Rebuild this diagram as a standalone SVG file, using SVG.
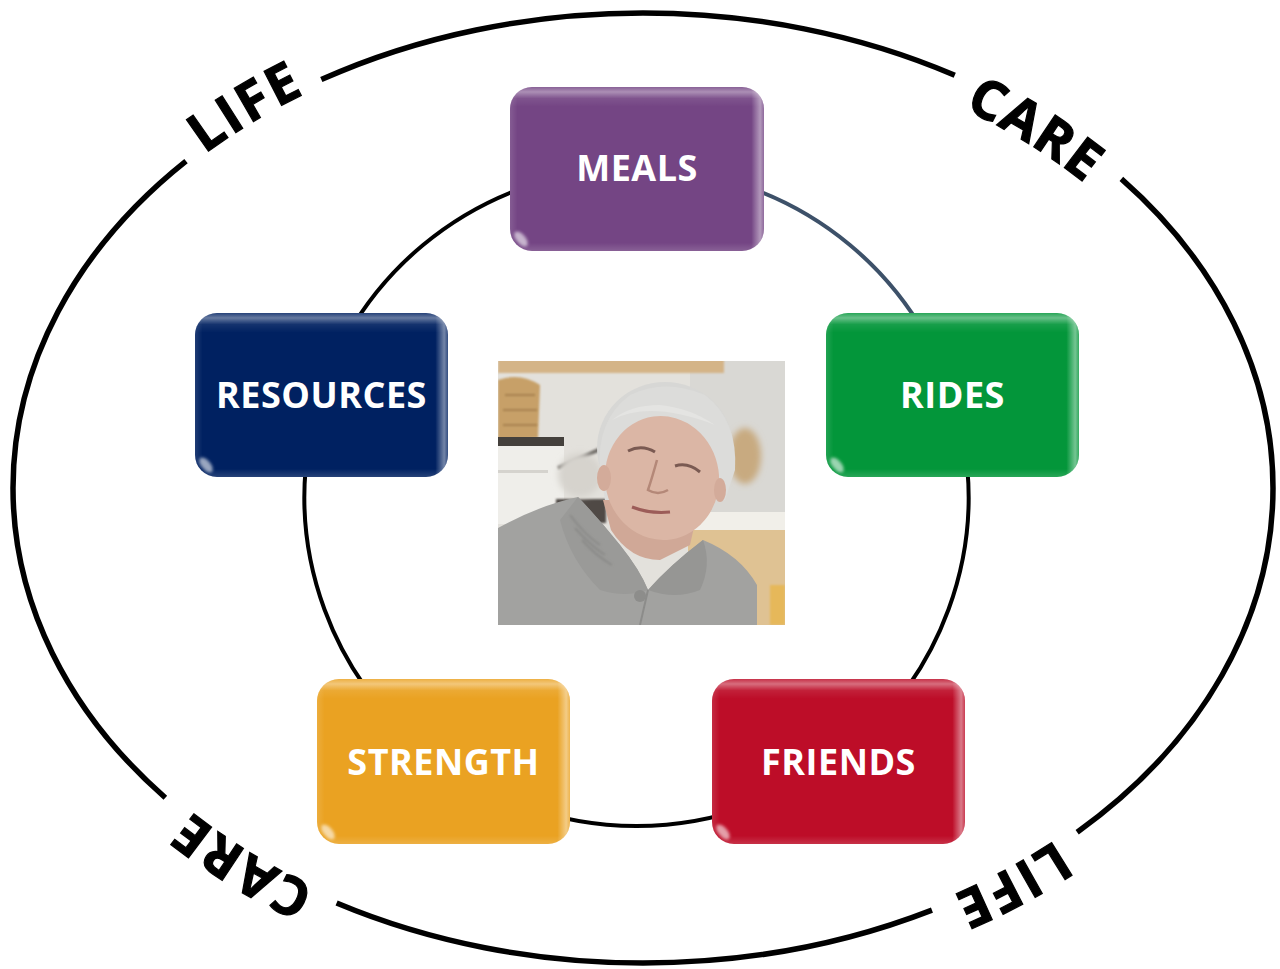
<svg xmlns="http://www.w3.org/2000/svg" xmlns:xlink="http://www.w3.org/1999/xlink" width="1280" height="969" viewBox="0 0 1280 969">
<style>
.lbl{font-family:"Open Sans","Liberation Sans",sans-serif;font-weight:700;font-size:36px;letter-spacing:.5px;fill:#fff;text-anchor:middle}
.ring{font-family:"Open Sans","Liberation Sans",sans-serif;font-weight:700;font-size:54px;fill:#000;stroke:#000;stroke-width:1.2px;letter-spacing:3px;text-anchor:middle}
.conn{fill:none;stroke:#000;stroke-width:4}
.gt{fill:url(#gTop)}
.gr{fill:url(#gRight)}
.spot{fill:#fff;opacity:.6;filter:url(#soft)}
</style>
<defs>
<path id="outerPath" d="M 13 488 A 630 475 0 0 1 1273 488 A 630 475 0 0 1 13 488"/>
<linearGradient id="gTop" x1="0" y1="0" x2="0" y2="1">
<stop offset="0" stop-color="#fff" stop-opacity=".15"/>
<stop offset=".03" stop-color="#fff" stop-opacity=".4"/>
<stop offset=".07" stop-color="#fff" stop-opacity=".08"/>
<stop offset=".12" stop-color="#fff" stop-opacity="0"/>
<stop offset=".95" stop-color="#fff" stop-opacity="0"/>
<stop offset="1" stop-color="#fff" stop-opacity=".15"/>
</linearGradient>
<linearGradient id="gRight" x1="0" y1="0" x2="1" y2="0">
<stop offset="0" stop-color="#fff" stop-opacity=".12"/>
<stop offset=".03" stop-color="#fff" stop-opacity="0"/>
<stop offset=".95" stop-color="#fff" stop-opacity="0"/>
<stop offset=".985" stop-color="#fff" stop-opacity=".45"/>
<stop offset="1" stop-color="#fff" stop-opacity=".2"/>
</linearGradient>
<filter id="soft" x="-50%" y="-50%" width="200%" height="200%"><feGaussianBlur stdDeviation="1.5"/></filter>
<filter id="blur3" x="-20%" y="-20%" width="140%" height="140%"><feGaussianBlur stdDeviation="3"/></filter>
<filter id="blur1"><feGaussianBlur stdDeviation="1"/></filter>
<clipPath id="photoClip"><rect x="498" y="361" width="287" height="264"/></clipPath>
</defs>
<rect width="1280" height="969" fill="#fff"/>

<g id="outer-ring">
<path d="M 13 488 A 630 475 0 0 1 1273 488 A 630 475 0 0 1 13 488" pathLength="1000" fill="none" stroke="#000" stroke-width="5.5" stroke-dasharray="109.77 45.37 186.61 56.47 219.74 47.35 174.77 57.87 102.05"/>
<text class="ring" dy="6"><textPath href="#outerPath" startOffset="13.25%">LIFE</textPath></text>
<text class="ring" dy="27"><textPath href="#outerPath" startOffset="37%">CARE</textPath></text>
<text class="ring" dy="6"><textPath href="#outerPath" startOffset="64.16%">LIFE</textPath></text>
<text class="ring" dy="6"><textPath href="#outerPath" startOffset="86.9%">CARE</textPath></text>
</g>

<g id="connectors">
<path class="conn" style="stroke:#3d5169" d="M 636.5 168 A 332 329 0 0 1 963.5 439.9"/>
<path class="conn" d="M 963.5 439.9 A 332 329 0 0 1 849.9 749"/>
<path class="conn" d="M 849.9 749 A 332 329 0 0 1 423.1 749"/>
<path class="conn" d="M 423.1 749 A 332 329 0 0 1 309.5 439.9"/>
<path class="conn" d="M 309.5 439.9 A 332 329 0 0 1 636.5 168"/>
</g>

<g id="photo" clip-path="url(#photoClip)">
<rect x="498" y="361" width="287" height="264" fill="#e3e1dc"/>
<rect x="690" y="361" width="95" height="160" fill="#d9d8d4"/>
<rect x="498" y="358" width="226" height="15" fill="#d4b487" filter="url(#blur1)"/>
<path d="M498 380 Q520 372 540 385 L538 438 L498 440 Z" fill="#c7a068" filter="url(#blur1)"/>
<path d="M505 395 L535 395 M503 410 L537 410 M503 425 L537 425" stroke="#a7824f" stroke-width="2" fill="none" filter="url(#blur1)"/>
<rect x="498" y="437" width="66" height="9" fill="#44403c"/>
<rect x="498" y="446" width="66" height="78" fill="#efeeea"/>
<rect x="498" y="470" width="50" height="3" fill="#d5d3ce"/>
<rect x="556" y="499" width="50" height="24" fill="#4f4a45" filter="url(#blur1)"/>
<path d="M558 468 L605 447" stroke="#6f6c68" stroke-width="4" filter="url(#blur1)"/>
<ellipse cx="580" cy="475" rx="22" ry="22" fill="#d6d3cd" filter="url(#blur3)"/>
<ellipse cx="745" cy="456" rx="16" ry="28" fill="#c8aa80" filter="url(#blur3)"/>
<rect x="688" y="512" width="97" height="20" fill="#f1efe9"/>
<rect x="688" y="530" width="97" height="95" fill="#dfc293"/>
<rect x="770" y="585" width="15" height="40" fill="#e6b85a" filter="url(#blur1)"/>
<ellipse cx="665" cy="448" rx="68" ry="66" fill="#d7d7d5"/>
<path d="M600 470 Q596 420 630 395 Q665 378 705 395 Q738 420 735 470 L725 500 L605 500 Z" fill="#dcdcda"/>
<path d="M603 500 L611 530 Q630 560 660 560 L690 545 L700 500 Z" fill="#d0a897"/>
<ellipse cx="662" cy="478" rx="57" ry="62" fill="#dbb6a5" transform="rotate(-8 662 478)"/>
<path d="M612 420 Q650 400 715 425 Q690 408 660 405 Q630 405 612 420 Z" fill="#e4e4e2"/>
<path d="M628 451 Q642 444 655 452" stroke="#7a5a52" stroke-width="3" fill="none"/>
<path d="M675 466 Q688 462 700 472" stroke="#7a5a52" stroke-width="3" fill="none"/>
<path d="M657 460 Q652 478 648 490 Q658 496 668 490" stroke="#b48878" stroke-width="2.5" fill="none"/>
<path d="M632 507 Q650 514 670 512" stroke="#9c5c58" stroke-width="3" fill="none"/>
<ellipse cx="604" cy="478" rx="7" ry="13" fill="#d3ab9a"/>
<ellipse cx="720" cy="490" rx="6" ry="12" fill="#d3ab9a"/>
<path d="M498 528 Q540 505 578 497 Q600 520 620 545 Q640 570 648 590 Q670 565 703 540 Q740 555 757 585 L757 625 L498 625 Z" fill="#a2a2a0"/>
<path d="M578 497 Q600 520 620 545 Q640 570 648 590 Q625 598 600 590 Q570 560 560 520 Z" fill="#9a9a98"/>
<path d="M648 590 Q670 565 703 540 Q712 565 700 590 Q675 600 648 590 Z" fill="#969694"/>
<path d="M570 515 Q585 535 600 545 M575 528 Q590 545 605 555 M582 540 Q595 555 612 565" stroke="#8a8a88" stroke-width="2" fill="none" filter="url(#blur1)"/>
<circle cx="640" cy="596" r="6" fill="#8d8d8b"/>
<path d="M648 590 L640 625" stroke="#8c8c8a" stroke-width="2"/>
</g>

<g id="meals">
<rect x="510" y="87" width="254" height="164" rx="22" fill="#744584"/>
<rect x="510" y="87" width="254" height="164" rx="22" class="gt"/>
<rect x="510" y="87" width="254" height="164" rx="22" class="gr"/>
<ellipse cx="521" cy="239" rx="9" ry="4.5" class="spot" transform="rotate(50 521 239)"/>
<text class="lbl" x="637" y="181">MEALS</text>
</g>

<g id="resources">
<rect x="195" y="313" width="253" height="164" rx="22" fill="#002161"/>
<rect x="195" y="313" width="253" height="164" rx="22" class="gt"/>
<rect x="195" y="313" width="253" height="164" rx="22" class="gr"/>
<ellipse cx="206" cy="465" rx="9" ry="4.5" class="spot" transform="rotate(50 206 465)"/>
<text class="lbl" x="321.5" y="408">RESOURCES</text>
</g>

<g id="rides">
<rect x="826" y="313" width="253" height="164" rx="22" fill="#03963a"/>
<rect x="826" y="313" width="253" height="164" rx="22" class="gt"/>
<rect x="826" y="313" width="253" height="164" rx="22" class="gr"/>
<ellipse cx="837" cy="465" rx="9" ry="4.5" class="spot" transform="rotate(50 837 465)"/>
<text class="lbl" x="952.5" y="408">RIDES</text>
</g>

<g id="strength">
<rect x="317" y="679" width="253" height="165" rx="22" fill="#eaa222"/>
<rect x="317" y="679" width="253" height="165" rx="22" class="gt"/>
<rect x="317" y="679" width="253" height="165" rx="22" class="gr"/>
<ellipse cx="328" cy="832" rx="9" ry="4.5" class="spot" transform="rotate(50 328 832)"/>
<text class="lbl" x="443.5" y="774.5">STRENGTH</text>
</g>

<g id="friends">
<rect x="712" y="679" width="253" height="165" rx="22" fill="#bd0d28"/>
<rect x="712" y="679" width="253" height="165" rx="22" class="gt"/>
<rect x="712" y="679" width="253" height="165" rx="22" class="gr"/>
<ellipse cx="723" cy="832" rx="9" ry="4.5" class="spot" transform="rotate(50 723 832)"/>
<text class="lbl" x="838.5" y="774.5">FRIENDS</text>
</g>
</svg>
